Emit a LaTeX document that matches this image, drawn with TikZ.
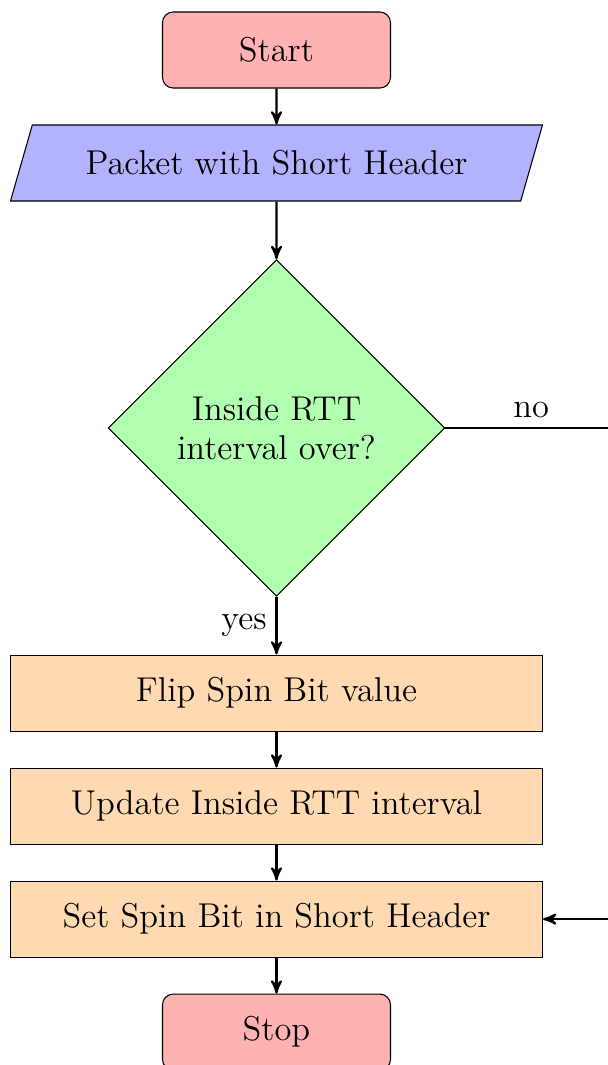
\documentclass[tikz,border=0pt]{standalone}
\usepackage{fontspec}
\usepackage{tikz}
\usetikzlibrary{shapes.geometric,arrows,positioning}

\begin{document}
\begin{tikzpicture}[>= stealth', node distance = 1.487cm, on grid, font = \fontsize{12.9}{14.5}\selectfont,
  startstop/.style = {rectangle, rounded corners, minimum width = 3cm, minimum height = 1cm, draw = black, fill = red!30},
  io/.style = {trapezium, trapezium stretches body, trapezium left angle = 63, trapezium right angle = 117, minimum width = 7cm, minimum height = 1cm, draw = black, fill = blue!30},
  decision/.style = {diamond, aspect = 1, minimum width = 4.43cm, minimum height = 4.43cm, inner sep = 0pt, align = center, draw = black, fill = green!30},
  process/.style = {rectangle, minimum width = 7cm, minimum height = 1cm, draw = black, fill = orange!30}]
	\useasboundingbox (-3.638,0.658) rectangle (4.349,-13.355);
	\node[startstop] (start) {Start};
	\node[io] (pkt) [below = of start] {Packet with Short Header};
	\node[decision] (dec) [below = 3.487cm of pkt] {Inside RTT\\interval over?};
	\node[process] (flip) [below = 3.487cm of dec] {Flip Spin Bit value};
	\node[process] (upd) [below = of flip] {Update Inside RTT interval};
	\node[process] (set) [below = of upd] {Set Spin Bit in Short Header};
	\node[startstop] (stop) [below = of set] {Stop};
	\coordinate[right = 4.48cm of dec] (noend);
	\path[->, thick] (start) edge (pkt);
	\path[->, thick] (pkt) edge (dec);
	\path[->, thick] (dec) edge node[anchor = east] {yes} (flip);
	\path[->, thick] (flip) edge (upd);
	\path[->, thick] (upd) edge (set);
	\path[->, thick] (set) edge (stop);
	\draw[->, thick] (dec) -- node[anchor = south] {no} (noend) |- (set);
\end{tikzpicture}
\end{document}
